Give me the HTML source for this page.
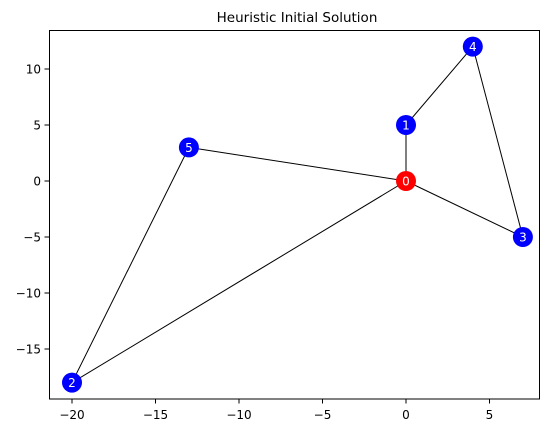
<!DOCTYPE html>
<html><head><style>
body{margin:0;background:#fff;font-family:"Liberation Sans","DejaVu Sans",sans-serif}
svg text{font-family:"DejaVu Sans","Liberation Sans",sans-serif}
</style></head><body>
<svg width="555" height="433" id="c">
<rect x="49.5" y="30.5" width="490" height="368.5" fill="none" stroke="#000" stroke-width="1"/>
<text x="297" y="22" font-size="13.5" text-anchor="middle">Heuristic Initial Solution</text>
</svg>
<script>
const nodeIds=[0,1,2,3,4,5];
const nodeX=[0,0,-20,7,4,-13];
const nodeY=[0,5,-18,-5,12,3];
const nodeColors=['red','blue','blue','blue','blue','blue'];
const edgeFrom=[0,1,4,3,0,5,2];
const edgeTo=[1,4,3,0,5,2,0];
const xTicks=[-20,-15,-10,-5,0,5];
const yTicks=[-15,-10,-5,0,5,10];
const sx=v=>406+v*16.7;
const sy=v=>181-v*11.2;
const svg=document.getElementById('c');
const NS='http://www.w3.org/2000/svg';
function mk(t,a){const e=document.createElementNS(NS,t);for(const k in a)e.setAttribute(k,a[k]);svg.appendChild(e);return e;}
xTicks.forEach(v=>{
 const l=mk('line',{x1:sx(v),x2:sx(v),y1:399,y2:403.5,stroke:'#000'});
 
 
 const t=mk('text',{x:sx(v),y:419,'font-size':12,'text-anchor':'middle'});
 t.textContent=v<0?'\u2212'+(-v):v;
 
 
});
yTicks.forEach(v=>{
 const l=mk('line',{x1:44.5,x2:49,y1:sy(v),y2:sy(v),stroke:'#000'});
 
 
 const t=mk('text',{x:41,y:sy(v)+4.5,'font-size':12,'text-anchor':'end'});
 t.textContent=v<0?'\u2212'+(-v):v;
 
 
});
edgeFrom.forEach((a,i)=>{
 const b=edgeTo[i];
 const l=mk('line',{x1:sx(nodeX[a]),y1:sy(nodeY[a]),x2:sx(nodeX[b]),y2:sy(nodeY[b]),stroke:'#000','stroke-width':1});
 
 
});
nodeIds.forEach((id,i)=>{
 const c=mk('circle',{cx:sx(nodeX[i]),cy:sy(nodeY[i]),r:10,fill:nodeColors[i]});
 
 
 const t=mk('text',{x:sx(nodeX[i]),y:sy(nodeY[i])+4.5,'font-size':12,'text-anchor':'middle',fill:'#fff'});
 t.textContent=id;
 
 
});
</script>
</body></html>
